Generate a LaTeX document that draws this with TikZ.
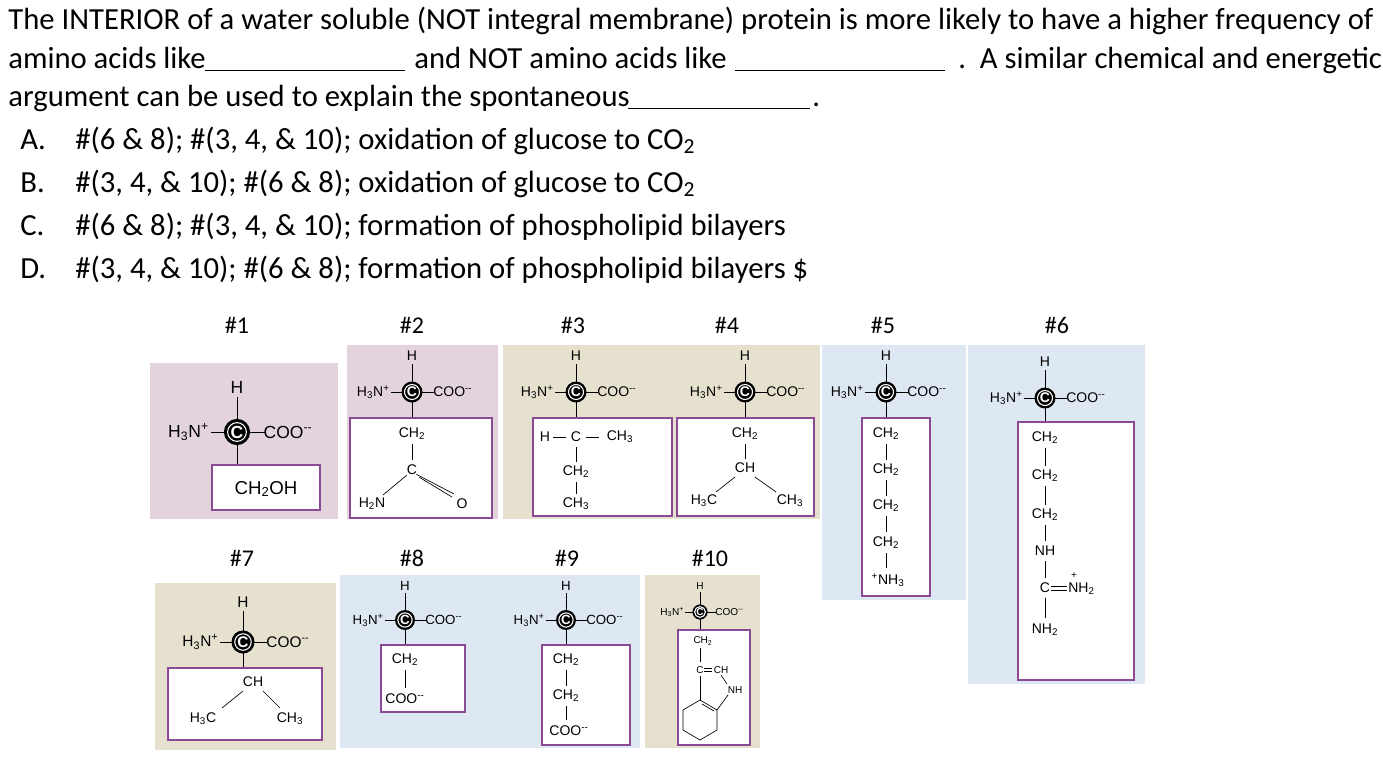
\documentclass[tikz,border=0pt]{standalone}
\usepackage{fontspec}
\setmainfont{Carlito}
\newfontfamily\labf{Liberation Sans}
\usetikzlibrary{calc}
\definecolor{pinkp}{HTML}{E2D3DC}
\definecolor{tanp}{HTML}{E6E0CF}
\definecolor{bluep}{HTML}{DEE8F3}
\definecolor{boxc}{HTML}{8C4A96}
\newcommand\sbs[1]{\textsubscript{#1}}
\newcommand\sps[1]{\textsuperscript{#1}}
\newcommand\core[4]{%
 \begin{scope}[shift={(#1,#2)},scale=#3,transform shape]
  \fill (0,0) circle (10.5);
  \draw[white,line width=0.8pt] (0,0) circle (7.5);
  \node[lb,text=white] (#4c) at (0,0) {\bfseries C};
  \node[lb] (#4h) at (0,-36) {H};
  \draw (0,-28) -- (0,-10);
  \node[lb,anchor=east] (#4n) at (-22,0) {H\sbs{3}N\sps{+}};
  \draw (-21,0) -- (-10,0);
  \draw (10,0) -- (22,0);
  \node[lb,anchor=west] (#4o) at (21,0) {COO\sps{--}};
 \end{scope}}
\tikzset{
 x=0.75pt,y=-0.75pt,
 lb/.style={font=\labf\fontsize{10.5}{12}\selectfont,inner sep=0},
 sm/.style={font=\labf\fontsize{7.5}{8}\selectfont,inner sep=0},
 hd/.style={font=\fontsize{18}{20}\selectfont,inner sep=0},
 qt/.style={font=\fontsize{23}{27}\selectfont,inner sep=0,anchor=base west},
 sbox/.style={draw=boxc,line width=1pt,fill=white}
}
\begin{document}
\begin{tikzpicture}[line width=0.5pt]
\useasboundingbox (0,0) rectangle (1383,771);
% question
\node[qt] (l1) at (8,29) {The INTERIOR of a water soluble (NOT integral membrane) protein is more likely to have a higher frequency of};
\node[qt] (l2a) at (8,68) {amino acids like};
\node[qt] (l2b) at (414,68) {and NOT amino acids like};
\node[qt] (l2c) at (958,68) {.\ \ A similar chemical and energetic};
\node[qt] (l3) at (8,106) {argument can be used to explain the spontaneous};
\node[qt] (l3d) at (812,106) {.};
\draw (205,70) -- (405,70);
\draw (735,70) -- (945,70);
\draw (628,108) -- (810,108);
\node[qt] (oa) at (20,149) {A.};
\node[qt] (ta) at (75,149) {\#(6 \& 8); \#(3, 4, \& 10); oxidation of glucose to CO\sbs{2}};
\node[qt] (ob) at (20,192) {B.};
\node[qt] (tb) at (75,192) {\#(3, 4, \& 10); \#(6 \& 8); oxidation of glucose to CO\sbs{2}};
\node[qt] (oc) at (20,235) {C.};
\node[qt] (tc) at (75,235) {\#(6 \& 8); \#(3, 4, \& 10); formation of phospholipid bilayers};
\node[qt] (od) at (20,278) {D.};
\node[qt] (td) at (75,278) {\#(3, 4, \& 10); \#(6 \& 8); formation of phospholipid bilayers \$};
% panels
\fill[pinkp] (150,363) rectangle (338,519);
\fill[pinkp] (347,345) rectangle (498,519);
\fill[tanp] (503,345) rectangle (820,519);
\fill[bluep] (822,345) rectangle (966,600);
\fill[bluep] (968,345) rectangle (1145,684);
\fill[tanp] (155,583) rectangle (336,750);
\fill[bluep] (340,575) rectangle (640,748);
\fill[tanp] (645,575) rectangle (760,748);
% headers
\foreach \t/\x/\y in {1/237/325,2/412/325,3/573/325,4/727/325,5/883/325,6/1057/325,7/242/558,8/412/558,9/567/558,10/710/558}
  \node[hd] (h\t) at (\x,\y) {\#\t};
% #1
\draw (237,432) -- (237,465);
\draw[sbox] (212,465) rectangle (320,510);
\node[lb,font=\labf\fontsize{14}{15}\selectfont] (a1) at (266,489) {CH\sbs{2}OH};
\core{237}{432}{1.25}{m1}
% #2
\draw (412,392) -- (412,418);
\draw[sbox] (350,418) rectangle (492,518);
\node[lb] (b1) at (412,434) {CH\sbs{2}};
\draw (412,444) -- (412,460);
\node[lb] (b2) at (412,470) {C};
\node[lb] (b3) at (372,504) {H\sbs{2}N};
\node[lb] (b4) at (462,504) {O};
\draw (b2.south west) -- (383,495);
\draw ($(b2.south east)+(-1,-1)$) -- (454,494);
\draw ($(b2.south east)+(2,2)$) -- (452,497);
\core{412}{392}{1}{m2}
% #3
\draw (576,392) -- (576,418);
\draw[sbox] (533,418) rectangle (672,516);
\node[lb] (c1) at (545,437) {H};
\draw (553,437) -- (566,437);
\node[lb] (c2) at (576,437) {C};
\draw (586,437) -- (599,437);
\node[lb] (c3) at (620,437) {CH\sbs{3}};
\draw (576,447) -- (576,462);
\node[lb] (c4) at (576,472) {CH\sbs{2}};
\draw (576,482) -- (576,494);
\node[lb] (c5) at (576,504) {CH\sbs{3}};
\core{576}{392}{1}{m3}
% #4
\draw (745,392) -- (745,418);
\draw[sbox] (677,418) rectangle (814,516);
\node[lb] (d1) at (745,434) {CH\sbs{2}};
\draw (745,444) -- (745,459);
\node[lb] (d2) at (745,468) {CH};
\node[lb] (d3) at (704,501) {H\sbs{3}C};
\node[lb] (d4) at (790,501) {CH\sbs{3}};
\draw (735,477) -- (716,492);
\draw (755,477) -- (776,492);
\core{745}{392}{1}{m4}
% #5
\draw (886,392) -- (886,418);
\draw[sbox] (862,418) rectangle (930,596);
\foreach \y [count=\i] in {434,470,506,543} {\node[lb] (e\i) at (886,\y) {CH\sbs{2}};}
\foreach \y in {444,480,516} \draw (886,\y) -- (886,\y+16);
\draw (886,553) -- (886,568);
\node[lb] (e5) at (888,580) {\sps{+}NH\sbs{3}};
\core{886}{392}{1}{m5}
% #6
\draw (1045,398) -- (1045,422);
\draw[sbox] (1018,422) rectangle (1134,680);
\foreach \y [count=\i] in {438,476,515} {\node[lb] (f\i) at (1045,\y) {CH\sbs{2}};}
\draw (1045,448) -- (1045,466);
\draw (1045,486) -- (1045,505);
\draw (1045,525) -- (1045,541);
\node[lb] (f4) at (1045,551) {NH};
\draw (1045,561) -- (1045,578);
\node[lb] (f5) at (1045,588) {C};
\draw (1051,586) -- (1067,586);
\draw (1051,590) -- (1067,590);
\node[lb,anchor=west] (f6) at (1068,589) {NH\sbs{2}};
\node[sm] (f6p) at (1074,576) {+};
\draw (1045,598) -- (1045,618);
\node[lb] (f7) at (1045,630) {NH\sbs{2}};
\core{1045}{398}{1}{m6}
% #7
\draw (243,642) -- (243,668);
\draw[sbox] (168,668) rectangle (322,740);
\node[lb] (g1) at (253,682) {CH};
\node[lb] (g2) at (203,719) {H\sbs{3}C};
\node[lb] (g3) at (290,719) {CH\sbs{3}};
\draw (243,691) -- (222,708);
\draw (263,691) -- (280,708);
\core{243}{642}{1.1}{m7}
% #8
\draw (405,620) -- (405,645);
\draw[sbox] (381,645) rectangle (465,712);
\node[lb] (i1) at (405,660) {CH\sbs{2}};
\draw (405,670) -- (405,688);
\node[lb] (i2) at (405,699) {COO\sps{--}};
\core{405}{620}{0.95}{m8}
% #9
\draw (566,620) -- (566,645);
\draw[sbox] (542,645) rectangle (630,745);
\node[lb] (j1) at (566,660) {CH\sbs{2}};
\draw (566,670) -- (566,686);
\node[lb] (j2) at (566,696) {CH\sbs{2}};
\draw (566,706) -- (566,720);
\node[lb] (j3) at (569,731) {COO\sps{--}};
\core{566}{620}{0.95}{m9}
% #10
\draw (700,612) -- (700,630);
\draw[sbox] (678,630) rectangle (750,745);
\node[sm] (k1) at (703,641) {CH\sbs{2}};
\draw (700,648) -- (700,662);
\node[sm] (k2) at (700,670) {C};
\draw (704,668) -- (712,668);
\draw (704,671) -- (712,671);
\node[sm] (k3) at (721,670) {CH};
\node[sm] (k4) at (735,690) {NH};
\draw (721,675) -- (727,684);
\draw (700,676) -- (700,700);
\draw (700,700) -- (717,710) -- (717,730) -- (700,740) -- (683,730) -- (683,710) -- cycle;
\draw (702,704) -- (714,711);
\draw (717,710) -- (728,695);
\core{700}{612}{0.72}{m10}
\end{tikzpicture}
\end{document}
